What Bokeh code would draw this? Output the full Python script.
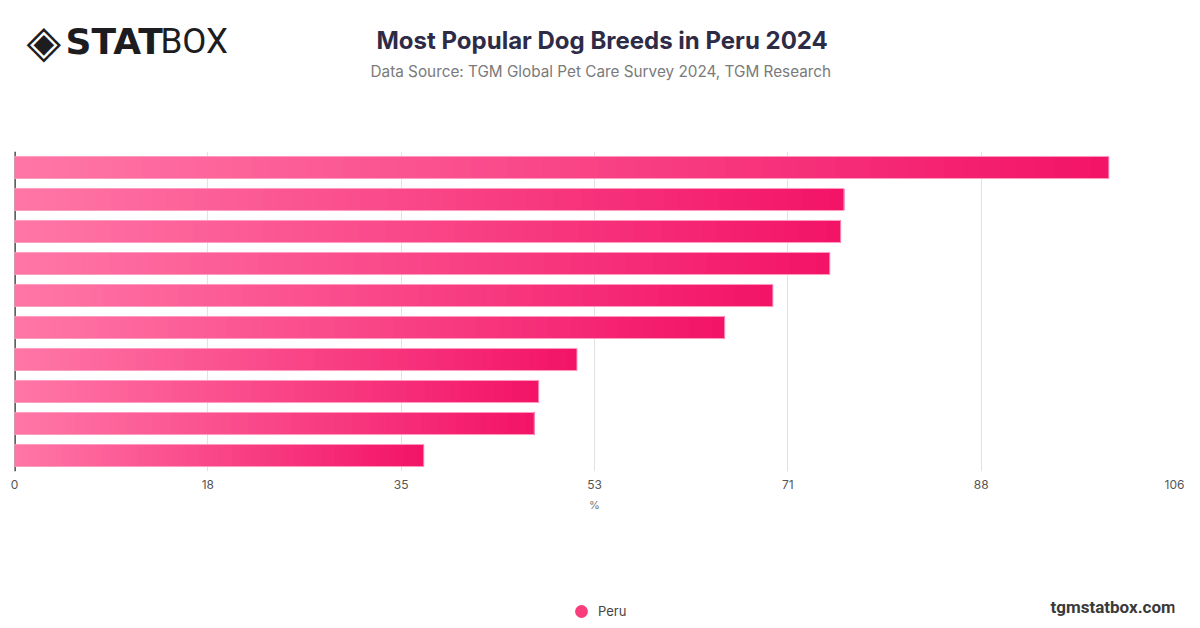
from bokeh.plotting import figure
from bokeh.layouts import column
from bokeh.models import (Range1d, FixedTicker, NumeralTickFormatter, Label, Span,
                          Legend, LegendItem, ColumnDataSource)
from bokeh.embed import file_html
from bokeh.resources import INLINE

# ---- data ----
ranks = [1, 2, 3, 4, 5, 6, 7, 8, 9, 10]
values = [100.0, 75.8, 75.5, 74.5, 69.3, 64.9, 51.4, 47.9, 47.5, 37.4]
series_name = "Peru"
x_max = 106
n_intervals = 6
title_text = "Most Popular Dog Breeds in Peru 2024"
subtitle_text = "Data Source: TGM Global Pet Care Survey 2024, TGM Research"
axis_label_text = "%"
site_text = "tgmstatbox.com"

# ---- style ----
W = 1200
HEAD_H, MAIN_H, FOOT_H = 140, 400, 88
BL, BR = 14, 26          # frame borders shared by all stacked figures
c_light = (255, 118, 166)
c_dark = (243, 20, 104)
n_steps = 60
bar_h = 0.69


def mix(t):
    r = [round(a + (b - a) * t) for a, b in zip(c_light, c_dark)]
    return "#%02x%02x%02x" % tuple(r)


def blank(h):
    # column() aligns the frames, so the frame spans canvas px BL .. W-BR
    f = figure(width=W, height=h, x_range=Range1d(BL, W - BR), y_range=Range1d(0, h),
               output_backend="svg", toolbar_location=None, x_axis_type=None, y_axis_type=None,
               min_border_left=BL, min_border_right=BR, min_border_top=0, min_border_bottom=0)
    f.outline_line_color = None
    f.grid.visible = False
    return f


def hlab(fig, h, text, rx, ry, size, color, font="Inter", style="normal"):
    fig.add_layout(Label(x=rx, y=h - ry, text=text, text_font=font, text_font_size=size,
                         text_color=color, text_font_style=style, text_align="left",
                         text_baseline="middle"))


# ---- header ----
head = blank(HEAD_H)
hlab(head, HEAD_H, title_text, 376, 40, "24px", "#2e2b47", style="bold")
hlab(head, HEAD_H, subtitle_text, 370, 71, "15.3px", "#7a7a7a")
hlab(head, HEAD_H, "\u25c8", 26, 41, "45px", "#1d1d1f", font="DejaVu Sans")
hlab(head, HEAD_H, "STAT", 65, 41, "36px", "#1d1d1f", font="DejaVu Sans", style="bold")
hlab(head, HEAD_H, "BOX", 160, 41, "35px", "#1d1d1f", font="Roboto")

# ---- main chart ----
seg_y, seg_left, seg_right, seg_color = [], [], [], []
for r, v in zip(ranks, values):
    for k in range(n_steps):
        seg_y.append(r)
        seg_left.append(v * k / n_steps)
        seg_right.append(v)
        seg_color.append(mix(k / (n_steps - 1)))
seg_src = ColumnDataSource(dict(y=seg_y, left=seg_left, right=seg_right, color=seg_color))
bar_src = ColumnDataSource(dict(y=ranks, right=values))

p = figure(width=W, height=MAIN_H, x_range=Range1d(0, x_max), y_range=Range1d(10.5, 0.5),
           output_backend="svg", toolbar_location=None, y_axis_type=None,
           min_border_left=BL, min_border_right=BR, min_border_top=11, min_border_bottom=69)
p.outline_line_color = None

ticks = [x_max * i / n_intervals for i in range(n_intervals + 1)]
p.xaxis.ticker = FixedTicker(ticks=ticks)
p.xaxis.formatter = NumeralTickFormatter(format="0")
p.xaxis.axis_line_color = None
p.xaxis.major_tick_line_color = None
p.xaxis.minor_tick_line_color = None
p.xaxis.major_label_standoff = 2
p.xaxis.major_label_text_font = "Inter"
p.xaxis.major_label_text_font_size = "12px"
p.xaxis.major_label_text_color = "#555555"
p.xaxis.axis_label = axis_label_text
p.xaxis.axis_label_text_font = "Inter"
p.xaxis.axis_label_text_font_size = "11px"
p.xaxis.axis_label_text_font_style = "normal"
p.xaxis.axis_label_text_color = "#777777"
p.xaxis.axis_label_standoff = 6

p.xgrid.ticker = FixedTicker(ticks=ticks[1:])
p.xgrid.grid_line_color = "#e2e2e2"
p.ygrid.grid_line_color = None

p.add_layout(Span(location=0, dimension="height", line_color="#2a2a2a", line_width=2.5, level="underlay"))

p.hbar(y="y", left="left", right="right", height=bar_h, fill_color="color", line_color=None, source=seg_src)
p.hbar(y="y", left=0, right="right", height=bar_h, fill_alpha=0, line_color="#ff9fc1", line_width=1, source=bar_src)

# ---- footer ----
foot = blank(FOOT_H)
# legend proxy placed outside the visible range
dummy = foot.scatter(x=[-1000], y=[-1000], marker="circle", size=13, fill_color="#f83c7c", line_color=None)
legend = Legend(items=[LegendItem(label=series_name, renderers=[dummy])], location=(551, 1),
                padding=0, margin=0, glyph_width=32, glyph_height=32, label_standoff=1,
                border_line_color=None, background_fill_alpha=0,
                label_text_font="Inter", label_text_font_size="13px", label_text_color="#444444")
foot.add_layout(legend)
hlab(foot, FOOT_H, site_text, 1050, 606 - (628 - FOOT_H), "17px", "#3a3a3a", font="Roboto", style="bold")

layout = column(head, p, foot, spacing=0)
open("out.html", "w").write(file_html(layout, INLINE))
